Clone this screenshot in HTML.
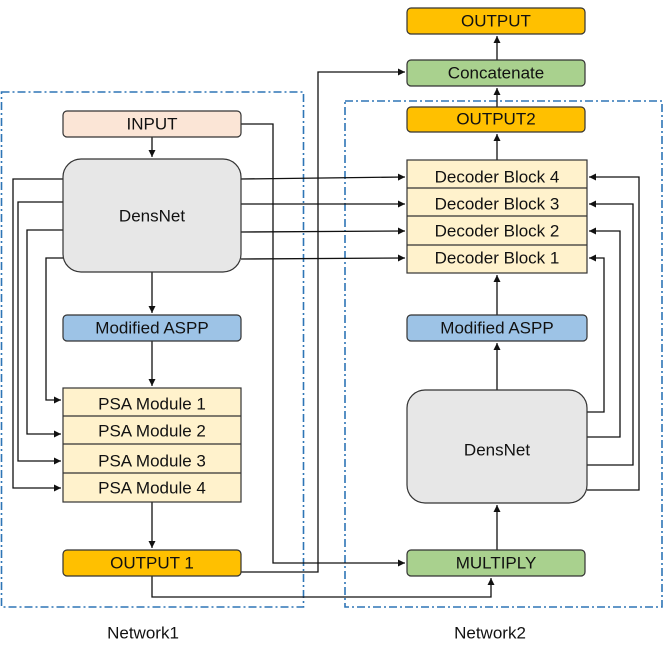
<!DOCTYPE html>
<html><head><meta charset="utf-8"><style>
body{margin:0;background:#fff;}
svg text{font-family:"Liberation Sans",sans-serif;font-size:17px;fill:#111;text-anchor:middle;dominant-baseline:central;}
</style></head><body>
<svg width="664" height="659" viewBox="0 0 664 659" xmlns="http://www.w3.org/2000/svg">
<defs><marker id="a" markerWidth="8" markerHeight="8" refX="7" refY="4" orient="auto" markerUnits="userSpaceOnUse"><path d="M0,0.5 L7,4 L0,7.5z" fill="#111"/></marker></defs>
<g fill="none" stroke="#2e75b6" stroke-width="1.6" stroke-dasharray="8,3,2,3">
<rect x="1.5" y="92" width="302" height="515"/>
<rect x="345" y="101" width="317" height="506"/>
</g>
<g fill="none" stroke="#111" stroke-width="1.3">
<polyline points="241,124 273,124 273,563 405,563" marker-end="url(#a)"/>
<polyline points="241,572 318,572 318,72 405,72" marker-end="url(#a)"/>
<polyline points="152,576 152,597 491,597 491,578" marker-end="url(#a)"/>
<line x1="152" y1="137" x2="152" y2="157" marker-end="url(#a)"/>
<line x1="152" y1="272" x2="152" y2="313" marker-end="url(#a)"/>
<line x1="152" y1="341" x2="152" y2="386" marker-end="url(#a)"/>
<line x1="152" y1="502" x2="152" y2="548" marker-end="url(#a)"/>
<polyline points="63,179 13,179 13,488 61,488" marker-end="url(#a)"/>
<polyline points="63,202 18,202 18,461 61,461" marker-end="url(#a)"/>
<polyline points="63,230 27,230 27,434 61,434" marker-end="url(#a)"/>
<polyline points="63,258 46,258 46,400 61,400" marker-end="url(#a)"/>
<line x1="241" y1="179" x2="405" y2="177" marker-end="url(#a)"/>
<line x1="241" y1="204" x2="405" y2="204" marker-end="url(#a)"/>
<line x1="241" y1="232" x2="405" y2="231" marker-end="url(#a)"/>
<line x1="241" y1="259" x2="405" y2="258" marker-end="url(#a)"/>
<line x1="497" y1="160" x2="497" y2="134" marker-end="url(#a)"/>
<line x1="497" y1="107" x2="497" y2="88" marker-end="url(#a)"/>
<line x1="497" y1="60" x2="497" y2="36" marker-end="url(#a)"/>
<line x1="497" y1="315" x2="497" y2="275" marker-end="url(#a)"/>
<line x1="497" y1="390" x2="497" y2="343" marker-end="url(#a)"/>
<line x1="497" y1="550" x2="497" y2="505" marker-end="url(#a)"/>
<polyline points="587,412 604,412 604,258 589,258" marker-end="url(#a)"/>
<polyline points="587,437 620,437 620,231 589,231" marker-end="url(#a)"/>
<polyline points="587,465 633,465 633,204 589,204" marker-end="url(#a)"/>
<polyline points="587,490 639,490 639,177 589,177" marker-end="url(#a)"/>
</g>
<g stroke="#333" stroke-width="1.2">
<rect x="63" y="111" width="178" height="26" rx="4" fill="#fbe5d6"/>
<rect x="63" y="159" width="178" height="113" rx="18" fill="#e7e7e7"/>
<rect x="63" y="315" width="178" height="26" rx="4" fill="#9dc3e6"/>
<rect x="63" y="388" width="178" height="114" fill="#fff2cc"/>
<line x1="63" y1="416" x2="241" y2="416"/><line x1="63" y1="444" x2="241" y2="444"/><line x1="63" y1="473" x2="241" y2="473"/>
<rect x="63" y="550" width="178" height="26" rx="4" fill="#ffc000"/>
<rect x="407" y="8" width="178" height="26" rx="4" fill="#ffc000"/>
<rect x="407" y="60" width="178" height="26" rx="4" fill="#a9d18e"/>
<rect x="407" y="107" width="178" height="25" rx="4" fill="#ffc000"/>
<rect x="407" y="160" width="180" height="113" fill="#fff2cc"/>
<line x1="407" y1="188" x2="587" y2="188"/><line x1="407" y1="216" x2="587" y2="216"/><line x1="407" y1="245" x2="587" y2="245"/>
<rect x="407" y="315" width="180" height="26" rx="4" fill="#9dc3e6"/>
<rect x="407" y="390" width="180" height="113" rx="18" fill="#e7e7e7"/>
<rect x="407" y="550" width="178" height="26" rx="4" fill="#a9d18e"/>
</g>
<text x="152" y="124">INPUT</text>
<text x="152" y="216">DensNet</text>
<text x="152" y="328">Modified  ASPP</text>
<text x="152" y="404">PSA Module 1</text>
<text x="152" y="431">PSA Module 2</text>
<text x="152" y="461">PSA Module 3</text>
<text x="152" y="488">PSA Module 4</text>
<text x="152" y="563">OUTPUT 1</text>
<text x="496" y="21">OUTPUT</text>
<text x="496" y="73">Concatenate</text>
<text x="496" y="119">OUTPUT2</text>
<text x="497" y="177">Decoder Block 4</text>
<text x="497" y="204">Decoder Block 3</text>
<text x="497" y="231">Decoder Block 2</text>
<text x="497" y="258">Decoder Block 1</text>
<text x="497" y="328">Modified  ASPP</text>
<text x="497" y="450">DensNet</text>
<text x="496" y="563">MULTIPLY</text>
<text x="143" y="633">Network1</text>
<text x="490" y="633">Network2</text>
</svg>
</body></html>
